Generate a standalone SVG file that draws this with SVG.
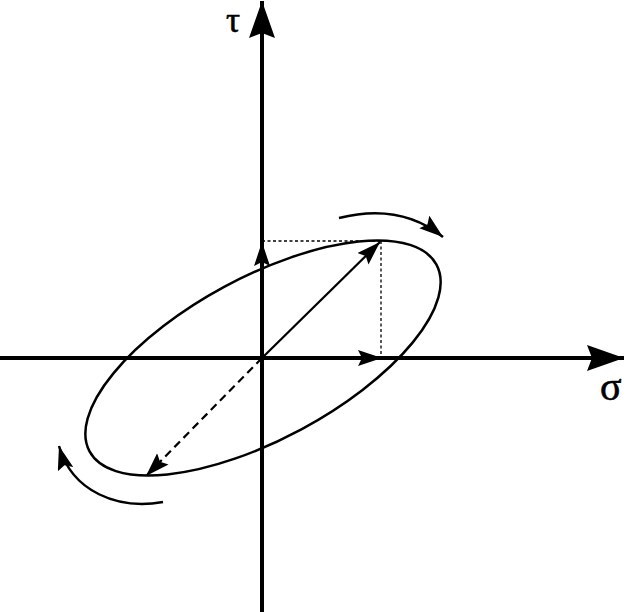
<svg xmlns="http://www.w3.org/2000/svg" width="627" height="612" viewBox="0 0 627 612">
<style>
.axis{stroke:#000;stroke-width:4;fill:none}
.thin{stroke:#000;stroke-width:2.5;fill:none}
.vec{stroke:#000;stroke-width:2.2;fill:none}
.dot{stroke:#000;stroke-width:1.3;stroke-dasharray:3,2.5;fill:none}
.dash{stroke:#000;stroke-width:2.2;stroke-dasharray:8,5;fill:none}
.lbl{font-family:"Liberation Serif","DejaVu Serif",serif;fill:#000;stroke:#000;stroke-width:0.6}
</style>
<defs>
<marker id="big" markerUnits="userSpaceOnUse" markerWidth="40" markerHeight="30" refX="37" refY="13" orient="auto">
<path d="M0,0 L37,13 L0,26 L5,13 Z" fill="#000"/>
</marker>
<marker id="sm" markerUnits="userSpaceOnUse" markerWidth="26" markerHeight="18" refX="24" refY="8" orient="auto">
<path d="M0,0 L24,8 L0,16 L4,8 Z" fill="#000"/>
</marker>
</defs>
<g id="connectors">
<line id="sigma-axis" class="axis" x1="0" y1="358" x2="624" y2="358" marker-end="url(#big)"/>
<line id="tau-axis" class="axis" x1="262" y1="612" x2="262" y2="1" marker-end="url(#big)"/>
<line class="dot" x1="262" y1="241" x2="381" y2="241"/>
<line class="dot" x1="381" y1="241" x2="381" y2="358"/>
<line class="vec" x1="262" y1="300" x2="262" y2="242" marker-end="url(#sm)"/>
<line class="vec" x1="320" y1="358" x2="382" y2="358" marker-end="url(#sm)"/>
<line class="vec" x1="262" y1="358" x2="380" y2="242" marker-end="url(#sm)"/>
<line class="dash" x1="262" y1="358" x2="146" y2="476" marker-end="url(#sm)"/>
<path class="thin" d="M339,218 C375,209 412,212 443,237" marker-end="url(#sm)"/>
<path class="thin" d="M163,502 C118,510 72,492 59,446" marker-end="url(#sm)"/>
</g>
<g id="ellipse">
<ellipse class="thin" cx="263" cy="358" rx="197" ry="81" transform="rotate(-28.3 263 358)"/>
</g>
<g id="labels">
<text class="lbl" x="226" y="32" font-size="35">τ</text>
<text class="lbl" x="600" y="400" font-size="40">σ</text>
</g>
</svg>
